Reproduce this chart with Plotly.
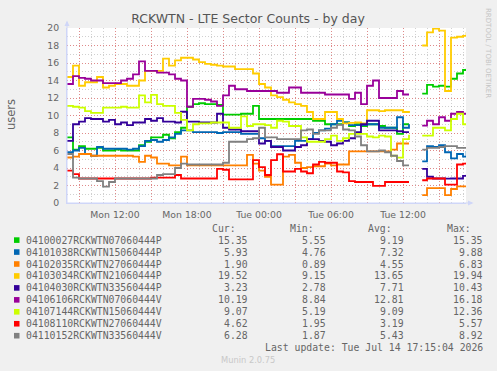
import plotly.graph_objects as go
from datetime import datetime, timedelta

# ---------------- data ----------------
START = datetime(2026, 7, 13, 8, 0)
END_HOURS = 33.25
GAP_HOUR = 29.0

hours_a = [0.0, 0.5, 1.0, 1.5, 2.0, 2.5, 3.0, 3.5, 4.0, 4.5, 5.0, 5.5, 6.0, 6.5, 7.0, 7.5,
           8.0, 8.5, 9.0, 9.5, 10.0, 10.5, 11.0, 11.5, 12.0, 12.5, 13.0, 13.5, 14.0, 14.5,
           15.0, 15.5, 16.0, 16.5, 17.0, 17.5, 18.0, 18.5, 19.0, 19.5, 20.0, 20.5, 21.0,
           21.5, 22.0, 22.5, 23.0, 23.5, 24.0, 24.5, 25.0, 25.5, 26.0, 26.5, 27.0, 27.5,
           28.0, 28.5]
hours_b = [29.6, 30.0, 30.5, 31.0, 31.5, 32.0, 32.5, 33.0, 33.3]

green_a = [7.5, 6.1, 6.5, 6.2, 6.2, 6.3, 6.0, 6.0, 6.1, 6.0, 6.0, 6.0, 6.6, 7.0, 7.5, 7.5,
           7.8, 7.4, 8.1, 8.6, 11.0, 11.3, 11.4, 11.3, 11.3, 11.2, 10.1, 10.1, 10.1, 10.2,
           10.2, 11.1, 9.6, 9.6, 9.6, 9.6, 9.6, 9.6, 9.6, 9.6, 9.6, 9.4, 9.4, 9.0, 9.0, 9.0,
           9.2, 8.8, 9.0, 8.8, 9.0, 9.0, 8.8, 8.6, 8.6, 7.9, 9.0, 9.0]
green_b = [12.5, 13.5, 13.3, 13.4, 13.3, 14.2, 14.8, 15.2, 15.35]

blue_a = [5.8, 6.0, 6.3, 5.6, 5.4, 6.4, 6.2, 6.2, 6.2, 6.2, 6.1, 6.2, 6.5, 7.1, 7.2, 7.0,
          7.2, 7.5, 7.9, 8.3, 8.3, 8.1, 8.1, 8.1, 8.1, 8.0, 8.1, 8.1, 8.1, 7.9, 7.9, 7.9,
          7.4, 7.1, 6.5, 6.5, 6.5, 6.5, 7.1, 7.1, 7.3, 8.0, 8.3, 8.5, 9.0, 9.4, 9.2, 8.9,
          8.9, 8.9, 9.0, 9.0, 8.6, 8.6, 8.6, 9.8, 8.6, 9.0]
blue_b = [4.76, 6.5, 6.4, 6.6, 5.8, 5.1, 5.6, 5.3, 5.93]

orange_a = [5.2, 5.3, 5.6, 5.6, 5.4, 5.4, 5.4, 5.4, 5.4, 5.4, 5.4, 5.3, 4.7, 5.4, 5.2, 4.5,
            4.5, 4.3, 4.3, 5.3, 4.3, 4.3, 4.3, 4.3, 4.3, 4.3, 4.3, 4.3, 4.3, 4.3, 5.5, 4.5,
            3.7, 3.0, 2.1, 2.1, 5.3, 5.5, 4.6, 4.0, 4.1, 4.2, 4.2, 4.5, 4.3, 4.4, 4.4, 5.9,
            5.9, 5.9, 5.9, 5.9, 5.9, 5.9, 6.1, 6.8, 6.8, 6.8]
orange_b = [0.9, 1.7, 1.7, 1.7, 0.89, 1.6, 1.9, 1.9, 1.90]

yellow_a = [14.4, 15.7, 13.4, 13.8, 13.8, 14.4, 13.2, 13.4, 13.6, 13.6, 13.4, 13.4, 14.0,
            15.1, 15.1, 15.1, 16.5, 15.7, 16.3, 16.6, 16.6, 16.4, 16.1, 15.9, 15.8, 15.7,
            15.6, 15.6, 15.3, 15.3, 15.3, 14.8, 13.6, 13.2, 12.3, 12.1, 11.8, 11.5, 11.3,
            11.1, 10.4, 9.6, 9.6, 10.4, 10.4, 9.6, 9.1, 9.15, 9.2, 9.1, 10.6, 10.6, 10.5,
            10.6, 10.6, 10.6, 10.4, 10.3]
yellow_b = [18.0, 19.5, 19.94, 19.7, 12.8, 18.9, 19.0, 19.1, 19.52]

indigo_a = [7.1, 9.0, 9.3, 9.7, 9.6, 9.6, 9.3, 9.5, 9.0, 9.2, 8.9, 9.2, 9.2, 9.6, 9.4, 9.7,
            9.3, 9.3, 9.2, 10.43, 9.3, 9.3, 9.2, 9.2, 9.2, 10.2, 8.6, 8.4, 8.4, 8.2, 8.2,
            8.2, 6.8, 7.1, 6.4, 6.4, 6.0, 6.0, 6.4, 6.6, 7.3, 7.3, 7.1, 7.0, 6.6, 6.8, 7.1,
            7.4, 8.1, 9.0, 9.4, 9.4, 8.3, 8.3, 8.3, 8.2, 8.1, 8.1]
indigo_b = [3.9, 3.0, 2.8, 2.8, 2.78, 2.8, 2.8, 3.1, 3.23]

purple_a = [13.6, 14.5, 14.3, 14.2, 14.0, 14.0, 13.7, 13.7, 13.7, 14.0, 14.2, 14.7, 16.18,
            15.1, 15.1, 14.9, 14.9, 14.7, 14.2, 14.0, 11.0, 11.9, 11.9, 11.8, 11.6, 11.1,
            12.3, 13.4, 13.0, 13.0, 12.8, 12.8, 12.8, 12.8, 12.8, 12.6, 12.6, 13.2, 13.2,
            12.6, 12.6, 12.6, 12.6, 12.4, 12.4, 12.4, 12.4, 11.9, 12.6, 11.3, 13.4, 14.0,
            12.0, 12.0, 12.0, 12.8, 12.4, 12.4]
purple_b = [8.84, 9.4, 9.0, 9.8, 9.4, 10.2, 10.4, 10.2, 10.19]

lime_a = [11.1, 11.0, 10.9, 10.5, 10.3, 10.3, 10.9, 10.9, 10.9, 11.0, 10.9, 10.9, 12.3,
          11.5, 12.36, 11.3, 11.1, 11.1, 10.3, 9.5, 8.3, 9.0, 9.1, 9.1, 9.2, 9.2, 9.2, 8.6,
          8.6, 9.9, 8.8, 9.0, 9.0, 8.9, 8.6, 9.4, 9.3, 8.8, 8.8, 7.5, 7.0, 7.0, 7.0, 7.3,
          7.7, 7.1, 7.4, 7.9, 7.9, 7.9, 7.6, 7.5, 7.7, 7.6, 5.4, 5.19, 7.3, 7.8]
lime_b = [7.7, 7.7, 8.6, 8.6, 8.3, 9.6, 10.2, 9.0, 9.07]

red_a = [3.7, 3.3, 2.8, 2.8, 2.8, 2.8, 2.8, 2.8, 2.8, 2.8, 2.8, 2.8, 2.8, 2.8, 2.9, 2.9,
         2.9, 2.9, 3.2, 2.8, 2.8, 2.8, 2.8, 2.8, 2.8, 3.9, 3.8, 2.7, 2.7, 2.7, 2.7, 4.9,
         4.1, 3.2, 4.9, 5.57, 3.6, 3.6, 3.9, 3.6, 3.4, 4.4, 4.7, 4.6, 4.6, 3.6, 3.5, 2.5,
         2.4, 2.4, 2.4, 1.95, 1.95, 2.4, 2.4, 2.4, 2.4, 2.4]
red_b = [2.6, 2.8, 2.8, 2.8, 2.1, 2.1, 4.4, 4.5, 4.62]

gray_a = [5.6, 2.9, 2.8, 2.8, 2.8, 2.5, 1.87, 2.4, 2.8, 2.8, 2.8, 2.8, 2.8, 2.8, 2.8, 3.2,
          3.3, 3.3, 4.0, 4.5, 4.4, 4.4, 4.4, 4.4, 4.4, 4.4, 4.6, 7.0, 7.0, 7.0, 7.3, 7.4,
          8.6, 7.5, 7.5, 7.3, 7.3, 7.3, 7.3, 8.3, 8.4, 7.9, 8.3, 8.3, 8.6, 8.92, 8.4, 8.3,
          7.6, 6.6, 5.9, 5.9, 6.0, 5.8, 5.4, 4.8, 4.3, 4.3]
gray_b = [6.1, 6.3, 6.3, 6.4, 6.5, 6.5, 6.3, 6.3, 6.28]

series_names = ["04100027RCKWTN07060444P", "04101038RCKWTN15060444P", "04102035RCKWTN27060444P",
                "04103034RCKWTN21060444P", "04104030RCKWTN33560444P", "04106106RCKWTN07060444V",
                "04107144RCKWTN15060444V", "04108110RCKWTN27060444V", "04110152RCKWTN33560444V"]
series_colors = ["#00CC00", "#0066B3", "#FF8000", "#FFCC00", "#330099", "#990099",
                 "#CCFF00", "#FF0000", "#808080"]
cur_vals = ["15.35", "5.93", "1.90", "19.52", "3.23", "10.19", "9.07", "4.62", "6.28"]
min_vals = ["5.55", "4.76", "0.89", "9.15", "2.78", "8.84", "5.19", "1.95", "1.87"]
avg_vals = ["9.19", "7.32", "4.55", "13.65", "7.71", "12.81", "9.09", "3.19", "5.43"]
max_vals = ["15.35", "9.88", "6.83", "19.94", "10.43", "16.18", "12.36", "5.57", "8.92"]

tick_hours = [1, 4, 7, 10, 13, 16, 19, 22, 25, 28, 31]
tick_labels = ["", "Mon 12:00", "", "Mon 18:00", "", "Tue 00:00", "", "Tue 06:00", "",
               "Tue 12:00", ""]
y_ticks = [0, 2, 4, 6, 8, 10, 12, 14, 16, 18, 20]

TITLE = "RCKWTN - LTE Sector Counts - by day"
Y_LABEL = "users"
LAST_UPDATE = "Last update: Tue Jul 14 17:15:04 2026"
FOOTER = "Munin 2.0.75"
SIDE = "RRDTOOL / TOBI OETIKER"

# ---------------- figure ----------------
W, H = 497, 371
PL, PR, PT, PB = 67, 466, 28, 203


def px(x):
    return (x - PL) / (PR - PL)


def py(y):
    return (PB - y) / (PB - PT)


def t(h):
    return START + timedelta(hours=h)


xs = [t(h) for h in hours_a] + [t(GAP_HOUR)] + [t(h) for h in hours_b]
series_a = [green_a, blue_a, orange_a, yellow_a, indigo_a, purple_a, lime_a, red_a, gray_a]
series_b = [green_b, blue_b, orange_b, yellow_b, indigo_b, purple_b, lime_b, red_b, gray_b]

fig = go.Figure()
for name, col, a, b in zip(series_names, series_colors, series_a, series_b):
    fig.add_trace(go.Scatter(x=xs, y=a + [None] + b, mode="lines", name=name,
                             line=dict(color=col, width=1.8, shape="hv"),
                             connectgaps=False, hoverinfo="skip"))

MAJ = "rgba(235,80,80,0.55)"
MIN = "rgba(150,150,150,0.45)"
AX = "#CFD6F8"
FONT = "#666666"

fig.update_layout(
    width=W, height=H,
    margin=dict(l=PL, r=W - PR, t=PT, b=H - PB, pad=0),
    paper_bgcolor="#F0F0F0", plot_bgcolor="#FFFFFF",
    showlegend=False,
    font=dict(family="DejaVu Sans", color=FONT),
    title=dict(text=TITLE, x=248 / W, y=1 - 19 / H, xanchor="center", yanchor="middle",
               font=dict(family="DejaVu Sans", size=12.5, color="#555555")),
)
fig.update_xaxes(
    type="date", range=[t(0), t(END_HOURS)],
    tickvals=[t(h) for h in tick_hours], ticktext=tick_labels,
    showgrid=True, gridcolor=MAJ, griddash="1px,2px", gridwidth=1,
    minor=dict(dtick=3600000, tick0=t(0), showgrid=True, gridcolor=MIN,
               griddash="1px,2px", gridwidth=1),
    showline=True, linecolor=AX, linewidth=1, zeroline=False,
    ticks="", ticklabelstandoff=3,
    tickfont=dict(family="DejaVu Sans", size=9.3, color=FONT),
)
fig.update_yaxes(
    range=[0, 20], tickvals=y_ticks,
    showgrid=True, gridcolor=MAJ, griddash="1px,2px", gridwidth=1,
    minor=dict(dtick=1, tick0=0, showgrid=True, gridcolor=MIN, griddash="1px,2px",
               gridwidth=1),
    showline=True, linecolor=AX, linewidth=1, zeroline=False,
    ticks="", ticklabelstandoff=5,
    tickfont=dict(family="DejaVu Sans", size=9.3, color=FONT),
)

# axis arrows
fig.add_shape(type="line", xref="paper", yref="paper", x0=px(67), x1=px(67),
              y0=py(203), y1=py(22), line=dict(color=AX, width=1))
fig.add_shape(type="path", xref="paper", yref="paper",
              path=f"M {px(64.5)} {py(26)} L {px(69.5)} {py(26)} L {px(67)} {py(20.5)} Z",
              fillcolor=AX, line=dict(color=AX, width=0))
fig.add_shape(type="line", xref="paper", yref="paper", x0=px(67), x1=px(472),
              y0=py(203), y1=py(203), line=dict(color=AX, width=1))
fig.add_shape(type="path", xref="paper", yref="paper",
              path=f"M {px(468)} {py(200.5)} L {px(468)} {py(205.5)} L {px(473.5)} {py(203)} Z",
              fillcolor=AX, line=dict(color=AX, width=0))

ann = []


def text(x, y, s, anchor="left", size=9.8, family="DejaVu Sans Mono", color=FONT, angle=0):
    ann.append(dict(x=px(x), y=py(y), xref="paper", yref="paper", text=s, showarrow=False,
                    xanchor=anchor, yanchor="middle", textangle=angle, borderpad=0,
                    borderwidth=0, font=dict(family=family, size=size, color=color)))


text(11, 115, Y_LABEL, anchor="center", size=11.5, family="DejaVu Sans", angle=-90)
text(488, 53, SIDE, anchor="center", size=7, family="DejaVu Sans", color="#C4C4C4", angle=90)

HEAD_Y = 228
ROW0 = 240.1
ROW_STEP = 11.95
cols = [(248, "Cur:", cur_vals), (326, "Min:", min_vals), (404, "Avg:", avg_vals),
        (483, "Max:", max_vals)]
for xr, head, vals in cols:
    text(xr - 12.5, HEAD_Y, head, anchor="right")
    for i, v in enumerate(vals):
        text(xr, ROW0 + i * ROW_STEP, v, anchor="right")

for i, (name, col) in enumerate(zip(series_names, series_colors)):
    yc = ROW0 + i * ROW_STEP
    text(26, yc, name, anchor="left")
    fig.add_shape(type="rect", xref="paper", yref="paper", x0=px(14), x1=px(19.5),
                  y0=py(yc + 2.8), y1=py(yc - 2.8), fillcolor=col, line=dict(width=0))

text(483, ROW0 + 9 * ROW_STEP - 0.3, LAST_UPDATE, anchor="right")
text(248, 360, FOOTER, anchor="center", size=8.3, family="DejaVu Sans", color="#C8C8C8")

fig.update_layout(annotations=ann)
fig.write_html("out.html")
